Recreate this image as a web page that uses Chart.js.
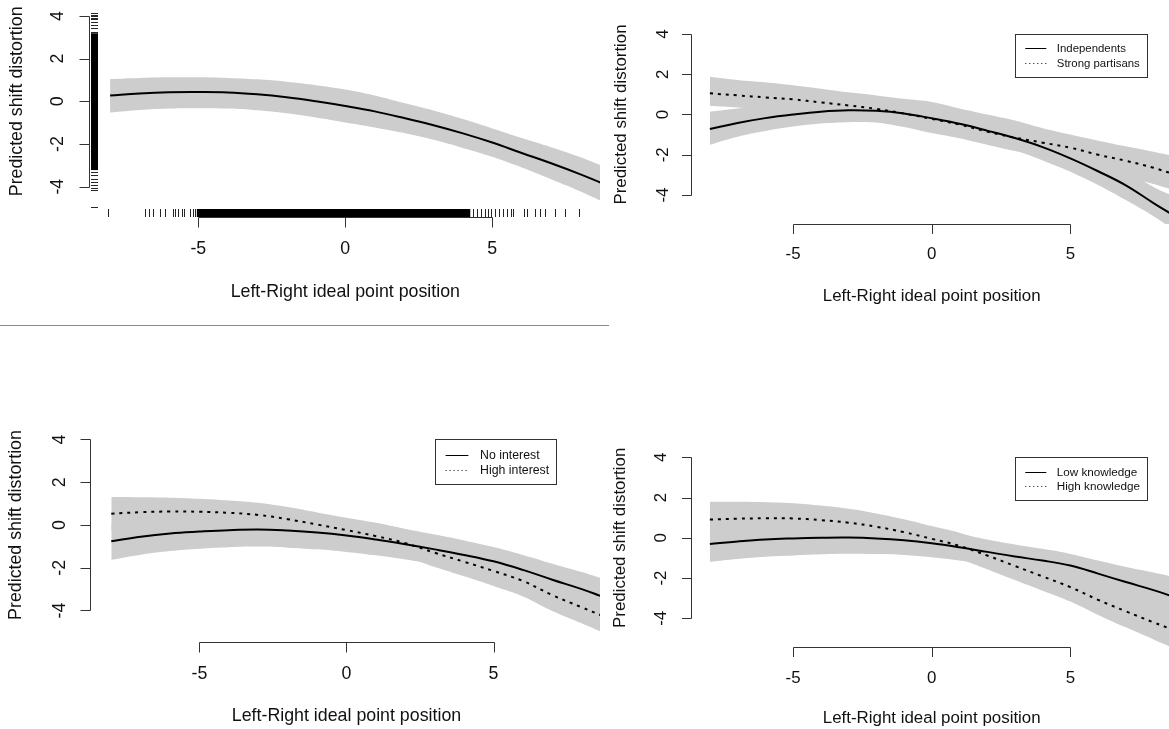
<!DOCTYPE html>
<html>
<head>
<meta charset="utf-8">
<script src="https://cdn.jsdelivr.net/npm/chart.js@4.4.1/dist/chart.umd.min.js"></script>
<style>
  body { margin: 0; background: #fff; width: 1169px; height: 729px; position: relative; overflow: hidden; }
  canvas { position: absolute; }
  .rule { position: absolute; left: 0; top: 325px; width: 609px; height: 1px; background: #8a8a8a; }
</style>
</head>
<body>
<canvas id="c1" width="600" height="324" style="left:0;top:0"></canvas>
<canvas id="c2" width="569" height="330" style="left:600px;top:0"></canvas>
<canvas id="c3" width="600" height="364" style="left:0;top:365px"></canvas>
<canvas id="c4" width="569" height="364" style="left:600px;top:365px"></canvas>
<div class="rule"></div>
<script>
// ideal point positions where the predictions are evaluated
var xGrid = [-8, -7, -6, -5, -4, -3, -2, -1, 0, 1, 2, 3, 4, 5, 6, 7, 8, 8.7];
var xTicks = [-5, 0, 5];
var yTicks = [-4, -2, 0, 2, 4];
var xTitle = 'Left-Right ideal point position';
var yTitle = 'Predicted shift distortion';

// all respondents: prediction and 95% band
var allFit = [0.27, 0.37, 0.43, 0.44, 0.42, 0.33, 0.19, 0.0, -0.22, -0.47, -0.78, -1.12, -1.5, -1.93, -2.42, -2.9, -3.42, -3.82];
var allLo = [-0.52, -0.4, -0.33, -0.32, -0.34, -0.42, -0.56, -0.76, -0.99, -1.22, -1.48, -1.8, -2.18, -2.6, -3.1, -3.65, -4.22, -4.66];
var allHi = [1.05, 1.1, 1.13, 1.13, 1.1, 1.03, 0.92, 0.76, 0.56, 0.28, -0.08, -0.43, -0.83, -1.27, -1.72, -2.15, -2.62, -3.0];
// observed positions (rugs); the dense stretches are given as ranges
var rugX = [-8.08, -6.8, -6.67, -6.54, -6.32, -6.12, -5.86, -5.78, -5.7, -5.56, -5.48, -5.27, -5.18, -5.1,
            4.35, 4.48, 4.6, 4.74, 4.85, 4.97, 5.1, 5.22, 5.35, 5.5, 5.62, 5.72, 6.07, 6.18, 6.46, 6.63, 6.8, 7.14, 7.48, 7.96];
var rugXDense = [-5.05, 4.25];
var rugY = [4.12, 4.05, 4.0, 3.9, 3.84, 3.73, 3.58, 3.42, 3.26, -3.3, -3.45, -3.62, -3.78, -3.93, -4.08, -4.16, -4.97];
var rugYDense = [-3.22, 3.19];

// partisanship
var partyNames = ['Independents', 'Strong partisans'];
var indFit = [-0.72, -0.42, -0.18, 0.0, 0.14, 0.21, 0.18, 0.05, -0.19, -0.46, -0.8, -1.17, -1.62, -2.18, -2.82, -3.52, -4.4, -5.0];
var indLo = [-1.5, -1.1, -0.82, -0.6, -0.45, -0.38, -0.4, -0.52, -0.72, -1.0, -1.36, -1.78, -2.28, -2.84, -3.5, -4.25, -5.05, -5.7];
var indHi = [0.14, 0.3, 0.45, 0.58, 0.68, 0.75, 0.72, 0.6, 0.36, 0.08, -0.26, -0.62, -1.0, -1.5, -2.1, -2.78, -3.6, -4.05];
var parFit = [1.05, 0.95, 0.85, 0.75, 0.6, 0.45, 0.28, 0.05, -0.22, -0.5, -0.85, -1.15, -1.4, -1.65, -2.0, -2.3, -2.65, -2.95];
var parLo = [0.42, 0.35, 0.25, 0.1, -0.05, -0.2, -0.38, -0.62, -0.92, -1.18, -1.5, -1.82, -2.1, -2.38, -2.75, -3.1, -3.45, -3.75];
var parHi = [1.88, 1.72, 1.6, 1.45, 1.28, 1.1, 0.95, 0.78, 0.62, 0.3, 0.0, -0.3, -0.68, -1.0, -1.3, -1.58, -1.85, -2.05];

// political interest
var interestNames = ['No interest', 'High interest'];
var noIntFit = [-0.76, -0.55, -0.4, -0.31, -0.24, -0.21, -0.26, -0.35, -0.49, -0.68, -0.9, -1.14, -1.4, -1.7, -2.1, -2.56, -3.0, -3.35];
var noIntLo = [-1.63, -1.39, -1.22, -1.11, -1.04, -1.01, -1.06, -1.14, -1.26, -1.42, -1.61, -1.83, -2.08, -2.37, -2.8, -3.31, -3.8, -4.2];
var noIntHi = [0.11, 0.29, 0.42, 0.49, 0.56, 0.59, 0.54, 0.44, 0.28, 0.06, -0.19, -0.45, -0.72, -1.03, -1.4, -1.81, -2.2, -2.5];
var hiIntFit = [0.53, 0.6, 0.63, 0.62, 0.57, 0.47, 0.27, 0.02, -0.24, -0.52, -0.85, -1.3, -1.72, -2.15, -2.62, -3.28, -3.85, -4.25];
var hiIntLo = [-0.25, -0.1, -0.02, 0.01, -0.01, -0.1, -0.3, -0.55, -0.82, -1.14, -1.5, -1.97, -2.4, -2.85, -3.34, -4.02, -4.6, -5.02];
var hiIntHi = [1.31, 1.3, 1.28, 1.23, 1.15, 1.04, 0.84, 0.59, 0.34, 0.1, -0.2, -0.63, -1.04, -1.45, -1.9, -2.54, -3.1, -3.48];

// political knowledge
var knowNames = ['Low knowledge', 'High knowledge'];
var loKnFit = [-0.31, -0.18, -0.08, -0.03, 0.0, 0.01, -0.03, -0.12, -0.27, -0.47, -0.7, -0.93, -1.13, -1.38, -1.78, -2.2, -2.6, -2.92];
var loKnLo = [-1.19, -1.05, -0.94, -0.88, -0.82, -0.79, -0.81, -0.86, -0.97, -1.13, -1.32, -1.53, -1.71, -1.96, -2.43, -2.95, -3.48, -3.9];
var loKnHi = [0.57, 0.69, 0.78, 0.82, 0.82, 0.81, 0.75, 0.62, 0.43, 0.19, -0.08, -0.33, -0.55, -0.8, -1.13, -1.45, -1.72, -1.94];
var hiKnFit = [0.91, 0.95, 0.97, 0.96, 0.88, 0.75, 0.55, 0.28, -0.05, -0.4, -0.88, -1.4, -1.92, -2.45, -3.08, -3.65, -4.2, -4.57];
var hiKnLo = [0.03, 0.11, 0.17, 0.2, 0.16, 0.06, -0.11, -0.36, -0.68, -1.05, -1.56, -2.1, -2.63, -3.17, -3.83, -4.45, -5.05, -5.47];
var hiKnHi = [1.79, 1.79, 1.77, 1.72, 1.6, 1.44, 1.21, 0.92, 0.58, 0.25, -0.2, -0.7, -1.21, -1.73, -2.33, -2.85, -3.35, -3.67];

var BAND = '#cdcdcd';
var SOLID = [];
var DOTTED = [3, 5];
var FONT = '"Liberation Sans", Arial, Helvetica, sans-serif';

function pts(ys) {
  return xGrid.map(function (x, i) { return { x: x, y: ys[i] }; });
}

// lower bound, upper bound filled down to it, then the prediction line
function seriesSets(name, fit, lo, hi, dash) {
  return [
    { label: name + ' lower', data: pts(lo), borderColor: 'rgba(0,0,0,0)', borderWidth: 0, fill: false, order: 2 },
    { label: name + ' upper', data: pts(hi), borderColor: 'rgba(0,0,0,0)', borderWidth: 0, fill: '-1', backgroundColor: BAND, order: 2 },
    { label: name, data: pts(fit), borderColor: '#000', borderWidth: 2, borderDash: dash, order: 1 }
  ];
}

// base-graphics style axes, rugs and legend box
var rAxes = {
  id: 'rAxes',
  afterDatasetsDraw: function (chart, args, o) {
    var ctx = chart.ctx, a = chart.chartArea, xs = chart.scales.x, ys = chart.scales.y;
    ctx.save();

    if (o.rug) {
      ctx.fillStyle = '#000';
      ctx.strokeStyle = 'rgba(0,0,0,0.85)';
      ctx.lineWidth = 1;
      var rb = a.bottom;
      var r0 = xs.getPixelForValue(rugXDense[0]), r1 = xs.getPixelForValue(rugXDense[1]);
      ctx.fillRect(r0, rb - 8, r1 - r0, 8);
      ctx.beginPath();
      rugX.forEach(function (v) {
        var px = Math.round(xs.getPixelForValue(v)) + 0.5;
        ctx.moveTo(px, rb - 8); ctx.lineTo(px, rb);
      });
      var q0 = ys.getPixelForValue(rugYDense[1]), q1 = ys.getPixelForValue(rugYDense[0]);
      ctx.fillRect(a.left + 1, q0, 7, q1 - q0);
      rugY.forEach(function (v) {
        var py = Math.round(ys.getPixelForValue(v)) + 0.5;
        ctx.moveTo(a.left + 1, py); ctx.lineTo(a.left + 8, py);
      });
      ctx.stroke();
    }

    ctx.strokeStyle = '#333';
    ctx.lineWidth = 1;
    ctx.fillStyle = '#111';
    ctx.font = o.font + 'px ' + FONT;
    ctx.textAlign = 'center';
    ctx.textBaseline = 'middle';

    // x axis
    var yb = Math.round(a.bottom) + 0.5;
    ctx.beginPath();
    ctx.moveTo(Math.round(xs.getPixelForValue(xTicks[0])) + 0.5, yb);
    ctx.lineTo(Math.round(xs.getPixelForValue(xTicks[xTicks.length - 1])) + 0.5, yb);
    xTicks.forEach(function (t) {
      var px = Math.round(xs.getPixelForValue(t)) + 0.5;
      ctx.moveTo(px, yb); ctx.lineTo(px, yb + o.tick);
    });
    // y axis
    var xl = Math.round(a.left) - 0.5;
    ctx.moveTo(xl, Math.round(ys.getPixelForValue(yTicks[0])) + 0.5);
    ctx.lineTo(xl, Math.round(ys.getPixelForValue(yTicks[yTicks.length - 1])) + 0.5);
    yTicks.forEach(function (t) {
      var py = Math.round(ys.getPixelForValue(t)) + 0.5;
      ctx.moveTo(xl, py); ctx.lineTo(xl - o.tick, py);
    });
    ctx.stroke();

    xTicks.forEach(function (t) {
      ctx.fillText(String(t), xs.getPixelForValue(t), yb + o.xLab);
    });
    var xMid = xs.getPixelForValue((xTicks[0] + xTicks[xTicks.length - 1]) / 2);
    ctx.fillText(xTitle, xMid, yb + o.xTit);

    yTicks.forEach(function (t) {
      ctx.save();
      ctx.translate(xl - o.yLab, ys.getPixelForValue(t));
      ctx.rotate(-Math.PI / 2);
      ctx.fillText(String(t), 0, 0);
      ctx.restore();
    });
    ctx.save();
    ctx.translate(xl - o.yTit, ys.getPixelForValue((yTicks[0] + yTicks[yTicks.length - 1]) / 2));
    ctx.rotate(-Math.PI / 2);
    ctx.fillText(yTitle, 0, 0);
    ctx.restore();

    // legend
    var lg = o.legend;
    if (lg) {
      ctx.strokeStyle = '#333';
      ctx.strokeRect(Math.round(lg.x) + 0.5, Math.round(lg.y) + 0.5, Math.round(lg.w), Math.round(lg.h));
      ctx.font = lg.font + 'px ' + FONT;
      ctx.textAlign = 'left';
      lg.names.forEach(function (name, i) {
        var ry = Math.round(lg.rows[i]) + 0.5;
        ctx.strokeStyle = '#000';
        ctx.setLineDash(lg.dashes[i]);
        ctx.beginPath();
        ctx.moveTo(lg.line[0], ry); ctx.lineTo(lg.line[1], ry);
        ctx.stroke();
        ctx.setLineDash([]);
        ctx.fillText(name, lg.text, ry);
      });
    }
    ctx.restore();
  }
};

var panels = [
  {
    id: 'c1',
    sets: seriesSets('All respondents', allFit, allLo, allHi, SOLID),
    pad: { left: 90, right: 0, top: 0, bottom: 107 },
    xLim: [-8.684, 8.663], yLim: [-5.419, 4.749],
    axes: { font: 17.8, tick: 10, xLab: 32, xTit: 75, yLab: 31, yTit: 72.5, rug: true }
  },
  {
    id: 'c2',
    sets: seriesSets(partyNames[0], indFit, indLo, indHi, SOLID)
      .concat(seriesSets(partyNames[1], parFit, parLo, parHi, DOTTED)),
    pad: { left: 91.7, right: 0, top: 0, bottom: 105.7 },
    xLim: [-8.655, 8.558], yLim: [-5.456, 5.689],
    axes: { font: 16.9, tick: 9.5, xLab: 29.7, xTit: 71.7, yLab: 28.2, yTit: 69.7,
      legend: { x: 414.5, y: 33.5, w: 131.5, h: 43, font: 11.4, rows: [48.3, 62.7], line: [425.3, 446.3], text: 456.8,
        names: partyNames, dashes: [[], [1, 3]] } }
  },
  {
    id: 'c3',
    sets: seriesSets(interestNames[0], noIntFit, noIntLo, noIntHi, SOLID)
      .concat(seriesSets(interestNames[1], hiIntFit, hiIntLo, hiIntHi, DOTTED)),
    pad: { left: 91, right: 0, top: 55, bottom: 87.4 },
    xLim: [-8.69, 8.622], yLim: [-5.455, 4.912],
    axes: { font: 17.8, tick: 10, xLab: 31.7, xTit: 73.4, yLab: 30, yTit: 74,
      legend: { x: 434.9, y: 74.4, w: 121, h: 45, font: 12.3, rows: [90.1, 105.2], line: [445.6, 468.4], text: 480.1,
        names: interestNames, dashes: [[], [1, 3]] } }
  },
  {
    id: 'c4',
    sets: seriesSets(knowNames[0], loKnFit, loKnLo, loKnHi, SOLID)
      .concat(seriesSets(knowNames[1], hiKnFit, hiKnLo, hiKnHi, DOTTED)),
    pad: { left: 91.7, right: 0, top: 55, bottom: 81.7 },
    xLim: [-8.655, 8.558], yLim: [-5.44, 5.852],
    axes: { font: 16.9, tick: 9.5, xLab: 31, xTit: 71, yLab: 30, yTit: 70.7,
      legend: { x: 414.5, y: 91.5, w: 131.5, h: 43, font: 11.7, rows: [106.7, 121], line: [425.3, 446.3], text: 456.8,
        names: knowNames, dashes: [[], [1, 3]] } }
  }
];

panels.forEach(function (p) {
  var ctx = document.getElementById(p.id).getContext('2d');
  new Chart(ctx, {
    type: 'line',
    data: { datasets: p.sets },
    options: {
      responsive: false,
      animation: false,
      devicePixelRatio: 1,
      events: [],
      layout: { padding: p.pad },
      elements: {
        point: { radius: 0, hitRadius: 0 },
        line: { tension: 0.4, borderCapStyle: 'butt' }
      },
      scales: {
        x: { type: 'linear', min: p.xLim[0], max: p.xLim[1], display: false },
        y: { type: 'linear', min: p.yLim[0], max: p.yLim[1], display: false }
      },
      plugins: {
        legend: { display: false },
        tooltip: { enabled: false },
        rAxes: p.axes
      }
    },
    plugins: [rAxes]
  });
});
</script>
</body>
</html>
